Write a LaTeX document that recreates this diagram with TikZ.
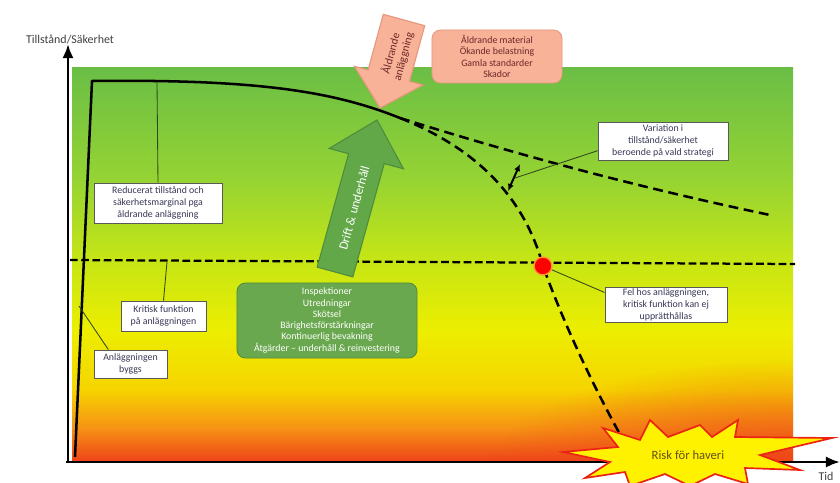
\documentclass[tikz,border=0pt]{standalone}
\usepackage{fontspec}
\setmainfont{Carlito}
\usepackage{xcolor}
\usepackage{tikz}
\usetikzlibrary{calc}
\usetikzlibrary{arrows.meta}
\usetikzlibrary{fadings}

\definecolor{bgtop}{RGB}{106,190,70}
\definecolor{bglight}{RGB}{150,212,50}
\definecolor{bglime}{RGB}{200,230,20}
\definecolor{bgyellow}{RGB}{236,238,0}
\definecolor{bgamber}{RGB}{246,212,0}
\definecolor{bgorange}{RGB}{246,145,20}
\definecolor{bgred}{RGB}{238,70,25}
\definecolor{boxtext}{RGB}{55,55,85}
\definecolor{pointer}{RGB}{50,70,30}
\definecolor{opgreen}{RGB}{98,168,72}
\definecolor{opgreendark}{RGB}{80,140,60}
\definecolor{tasksgreen}{RGB}{106,168,79}
\definecolor{salmon}{RGB}{247,178,152}
\definecolor{salmondark}{RGB}{232,150,125}
\definecolor{agedtext}{RGB}{110,40,40}
\definecolor{burstyellow}{RGB}{255,242,0}
\definecolor{burstred}{RGB}{235,35,20}
\definecolor{risktext}{RGB}{100,80,20}

\pgfdeclareverticalshading{bgfade}{100bp}{color(0bp)=(bgred); color(25bp)=(bgred); color(29bp)=(bgorange); color(34bp)=(bgamber); color(41.5bp)=(bgyellow); color(50bp)=(bglime); color(60.5bp)=(bglight); color(75bp)=(bgtop); color(100bp)=(bgtop)}
\tikzfading[name=redglow, inner color=transparent!20, outer color=transparent!100]

\begin{document}
\begin{tikzpicture}[x=0.025cm, y=-0.025cm,
  box/.style={draw=black!65, fill=white, line width=0.6pt, align=center, inner sep=1pt, text=boxtext, font=\fontsize{7}{8.4}\selectfont},
  pointer/.style={-, line width=0.6pt, draw=pointer},
  trend/.style={line width=1.8pt, black, dash pattern=on 7pt off 4pt},
  level/.style={line width=1.6pt, black, dash pattern=on 5.5pt off 2.5pt}]

\useasboundingbox (0,0) rectangle (840,482);

% background
\shade[shading=bgfade] (72,67) rectangle (793,460);
\begin{scope}
\clip (72,67) rectangle (793,460);
\fill[bgred, path fading=redglow] (790,470) ellipse (300 and 110);
\end{scope}

%% critical level
\coordinate (l0) at (70,260);
\coordinate (l1) at (795,264);
\path[level] (l0) edge (l1);

%% condition curve
\coordinate (c0) at (75,457);
\coordinate (c1) at (92,81);
\coordinate (c2) at (400,118);
\coordinate (c3) at (770,215);
\coordinate (f) at (543,266);
\coordinate (c4) at (630,452);
\draw[line width=1.8pt, line join=round] (c0) -- (c1) .. controls (260,79) and (335,92) .. (c2);
\draw[trend] (c2) .. controls (560,168) and (680,196) .. (c3);
\draw[trend] (c2) .. controls (480,150) and (525,200) .. (f) .. controls (566,330) and (600,400) .. (c4);

%% axes
\coordinate (o) at (68,462);
\coordinate (ytop) at (68,44);
\coordinate (xend) at (840,462);
\draw[line width=2pt, -{Latex[length=10pt,width=8pt]}] (o) -- (ytop);
\draw[line width=2pt, -{Latex[length=10pt,width=8pt]}] (66,462) -- (xend);

\node[font=\fontsize{8.5}{10}\selectfont, text=black!75] (ylab) at (70,40) {Tillstånd/Säkerhet};
\node[font=\fontsize{8.5}{10}\selectfont, text=black!75] (xlab) at (826,476) {Tid};

%% big arrows
\filldraw[fill=opgreen, draw=opgreendark, line width=0.8pt] (317.2,267.1) -- (348.6,153.7) -- (329.3,148.4) -- (377,120) -- (403.5,168.8) -- (384.2,163.5) -- (352.8,276.9) -- cycle;
\node[rotate=74.6, text=white, font=\fontsize{9}{10}\selectfont] (drift) at (354,208) {Drift \& underhåll};

\filldraw[fill=salmon, draw=salmondark, line width=0.8pt] (383.3,14.3) -- (368.1,69.9) -- (354.5,66.3) -- (380,108) -- (423.1,84.9) -- (409.5,81.3) -- (424.7,25.7) -- cycle;
\node[rotate=75, text=agedtext, align=center, font=\fontsize{8}{9}\selectfont] (aged) at (397,55) {Åldrande\\anläggning};

% nodes
\node[draw=salmondark, fill=salmon, rounded corners=6pt, line width=0.6pt, align=center, text=agedtext, minimum width=3.25cm, minimum height=1.325cm, inner sep=1pt, font=\fontsize{7}{8.2}\selectfont] (causes) at (497,56.5) {Åldrande material\\Ökande belastning\\Gamla standarder\\Skador};

\node[draw=opgreendark, fill=tasksgreen, rounded corners=6pt, line width=0.6pt, align=center, text=white, minimum width=4.5cm, minimum height=1.875cm, inner sep=1pt, font=\fontsize{7}{8}\selectfont] (tasks) at (327,320.5) {Inspektioner\\Utredningar\\Skötsel\\Bärighetsförstärkningar\\Kontinuerlig bevakning\\Åtgärder -- underhåll \& reinvestering};

\node[box, minimum width=3.2cm, minimum height=1cm] (reducerat) at (158,203) {Reducerat tillstånd och\\säkerhetsmarginal pga\\åldrande anläggning};
\node[box, minimum width=2.125cm, minimum height=0.75cm] (kritisk) at (163.5,316) {Kritisk funktion\\på anläggningen};
\node[box, minimum width=1.825cm, minimum height=0.7cm] (byggs) at (130.5,364) {Anläggningen\\byggs};
\node[box, minimum width=3.25cm, minimum height=0.95cm] (variation) at (663,141) {Variation i\\tillstånd/säkerhet\\beroende på vald strategi};
\node[box, minimum width=3.05cm, minimum height=0.875cm] (fel) at (666,305) {Fel hos anläggningen,\\kritisk funktion kan ej\\upprätthållas};

\node[shape=circle, fill=red, draw=orange!80, line width=1pt, inner sep=0pt, minimum size=0.45cm] (dot) at (f) {};

%% pointers
\coordinate (r0) at (157,82);
\coordinate (k0) at (167,262);
\coordinate (b0) at (79,306);
\coordinate (v1) at (520,164);
\coordinate (v2) at (508,191);
\coordinate (v0) at (515,178);
\path[pointer] (r0) edge (reducerat.north);
\path[pointer] (k0) edge (kritisk.north);
\path[pointer] (b0) edge ($(byggs.north west)!.2!(byggs.north east)$);
\path[pointer] ($(variation.west)!.5!(variation.south west)$) edge (v0);
\path[pointer] (dot) edge ($(fel.north west)!.15!(fel.south west)$);
\draw[line width=1.4pt, {Latex[length=5pt,width=4.5pt]}-{Latex[length=5pt,width=4.5pt]}] (v1) -- (v2);

%% risk burst
\filldraw[fill=burstyellow, draw=burstred, line width=1.2pt, line join=miter] (563,452) -- (618,447) -- (603,428) -- (640,440) -- (650,420) -- (668,437) -- (700,425) -- (712,437) -- (738,420) -- (735,437) -- (832,438) -- (760,455) -- (800,470) -- (745,468) -- (748,484) -- (715,474) -- (690,486) -- (665,474) -- (630,486) -- (625,472) -- (585,478) -- (610,462) -- cycle;
\node[text=risktext, font=\fontsize{9}{10}\selectfont] (risk) at (688,455) {Risk för haveri};

\end{tikzpicture}
\end{document}
